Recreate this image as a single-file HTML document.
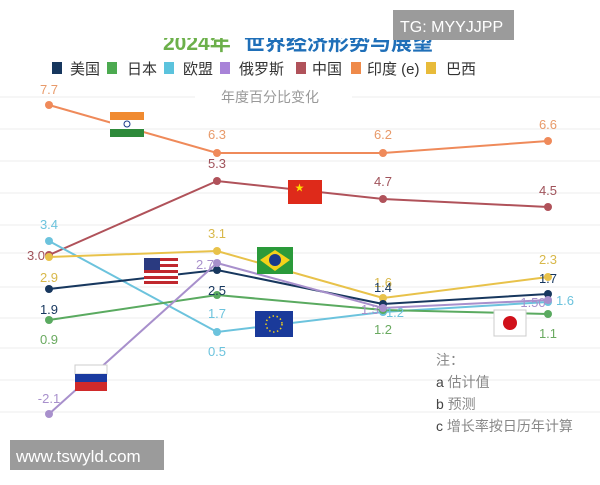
<!DOCTYPE html><html><head><meta charset="utf-8"><style>
body{margin:0;width:600px;height:480px;background:#fff;overflow:hidden;font-family:"Liberation Sans","Noto Sans CJK SC",sans-serif}
</style></head><body>
<svg width="600" height="480" xmlns="http://www.w3.org/2000/svg" font-family="Liberation Sans, Noto Sans CJK SC, sans-serif">
<g stroke="#eeeeee" stroke-width="1">
<line x1="0" y1="97" x2="195" y2="97"/><line x1="352" y1="97" x2="600" y2="97"/>
<line x1="0" y1="129" x2="600" y2="129"/><line x1="0" y1="161" x2="600" y2="161"/>
<line x1="0" y1="193" x2="600" y2="193"/><line x1="0" y1="225" x2="600" y2="225"/>
<line x1="0" y1="253" x2="600" y2="253"/><line x1="0" y1="287" x2="600" y2="287"/>
<line x1="0" y1="318" x2="600" y2="318"/><line x1="0" y1="348" x2="600" y2="348"/>
<line x1="0" y1="380" x2="600" y2="380"/><line x1="0" y1="412" x2="600" y2="412"/>
</g>
<text x="163" y="50" font-size="21" font-weight="bold" fill="#6cb04a">2024年</text>
<text x="244" y="50" font-size="21" font-weight="bold" fill="#1f6fb8">世界经济形势与展望</text>
<rect x="0" y="0" width="600" height="38" fill="#fff"/>
<rect x="393" y="10" width="121" height="30" fill="#9b9b9b"/>
<text x="400" y="32" font-size="16" fill="#fff">TG: MYYJJPP</text>
<g font-size="15" fill="#333">
<rect x="52" y="62" width="10" height="12" fill="#17375e"/><text x="70" y="74">美国</text>
<rect x="107" y="62" width="10" height="12" fill="#4caa50"/><text x="127" y="74">日本</text>
<rect x="164" y="62" width="10" height="12" fill="#5bc3dd"/><text x="183" y="74">欧盟</text>
<rect x="220" y="62" width="10" height="12" fill="#a883d8"/><text x="239" y="74">俄罗斯</text>
<rect x="296" y="62" width="10" height="12" fill="#b0525a"/><text x="312" y="74">中国</text>
<rect x="351" y="62" width="10" height="12" fill="#ef8a4a"/><text x="367" y="74">印度 (e)</text>
<rect x="426" y="62" width="10" height="12" fill="#e8bb3a"/><text x="446" y="74">巴西</text>
</g>
<text x="221" y="102" font-size="14" fill="#999">年度百分比变化</text>
<g fill="none" stroke-width="2">
<polyline stroke="#ef8a5a" points="49,105 217,153 383,153 548,141"/>
<polyline stroke="#b0525a" points="49,255 217,181 383,199 548,207"/>
<polyline stroke="#6cc3dd" points="49,241 217,332 383,312 548,302"/>
<polyline stroke="#e8c24a" points="49,257 217,251 383,298 548,277"/>
<polyline stroke="#17375e" points="49,289 217,270 383,304 548,294"/>
<polyline stroke="#5aaa60" points="49,320 217,295 383,310 548,314"/>
<polyline stroke="#a890cc" points="49,414 217,263 383,308 548,300"/>
</g>
<g>
<g fill="#ef8a5a"><circle cx="49" cy="105" r="4"/><circle cx="217" cy="153" r="4"/><circle cx="383" cy="153" r="4"/><circle cx="548" cy="141" r="4"/></g>
<g fill="#b0525a"><circle cx="49" cy="255" r="4"/><circle cx="217" cy="181" r="4"/><circle cx="383" cy="199" r="4"/><circle cx="548" cy="207" r="4"/></g>
<g fill="#6cc3dd"><circle cx="49" cy="241" r="4"/><circle cx="217" cy="332" r="4"/><circle cx="383" cy="312" r="4"/><circle cx="548" cy="302" r="4"/></g>
<g fill="#e8c24a"><circle cx="49" cy="257" r="4"/><circle cx="217" cy="251" r="4"/><circle cx="383" cy="298" r="4"/><circle cx="548" cy="277" r="4"/></g>
<g fill="#17375e"><circle cx="49" cy="289" r="4"/><circle cx="217" cy="270" r="4"/><circle cx="383" cy="304" r="4"/><circle cx="548" cy="294" r="4"/></g>
<g fill="#5aaa60"><circle cx="49" cy="320" r="4"/><circle cx="217" cy="295" r="4"/><circle cx="383" cy="310" r="4"/><circle cx="548" cy="314" r="4"/></g>
<g fill="#a890cc"><circle cx="49" cy="414" r="4"/><circle cx="217" cy="263" r="4"/><circle cx="383" cy="308" r="4"/><circle cx="548" cy="300" r="4"/></g>
</g>
<g font-size="13" text-anchor="middle">
<text x="49" y="94" fill="#e89a6a">7.7</text><text x="217" y="139" fill="#e89a6a">6.3</text><text x="383" y="139" fill="#e89a6a">6.2</text><text x="548" y="129" fill="#e89a6a">6.6</text>
<text x="217" y="168" fill="#a0525a">5.3</text><text x="383" y="186" fill="#a0525a">4.7</text><text x="548" y="195" fill="#a0525a">4.5</text>
<text x="49" y="229" fill="#6cc3dd">3.4</text><text x="217" y="318" fill="#6cc3dd">1.7</text><text x="217" y="356" fill="#6cc3dd">0.5</text><text x="395" y="317" fill="#6cc3dd">1.2</text><text x="565" y="305" fill="#6cc3dd">1.6</text>
<text x="36" y="260" fill="#a0525a">3.0</text>
<text x="49" y="282" fill="#d8b84a">2.9</text><text x="217" y="238" fill="#d8b84a">3.1</text><text x="383" y="287" fill="#d8b84a">1.6</text><text x="548" y="264" fill="#d8b84a">2.3</text>
<text x="49" y="314" fill="#17375e">1.9</text><text x="217" y="295" fill="#17375e">2.5</text><text x="383" y="292" fill="#17375e">1.4</text><text x="548" y="283" fill="#17375e">1.7</text>
<text x="49" y="344" fill="#6aaa60">0.9</text><text x="383" y="334" fill="#6aaa60">1.2</text><text x="548" y="338" fill="#6aaa60">1.1</text>
<text x="49" y="403" fill="#a890cc">-2.1</text><text x="205" y="269" fill="#a890cc">2.7</text><text x="370" y="314" fill="#a890cc">1.3</text><text x="533" y="307" fill="#a890cc">1.50</text>
</g>
<g><rect x="110" y="112" width="34" height="8" fill="#f08a30"/><rect x="110" y="120" width="34" height="9" fill="#fff"/><rect x="110" y="129" width="34" height="8" fill="#2e8a3a"/><circle cx="127" cy="124" r="3" fill="none" stroke="#1a3a8a"/></g>
<g><rect x="288" y="180" width="34" height="24" fill="#de2a1a"/><text x="295" y="191" font-size="9" fill="#ffde00">★</text></g>
<g><rect x="144" y="258" width="34" height="26" fill="#fff"/><g fill="#c0282e"><rect x="144" y="258" width="34" height="3"/><rect x="144" y="264" width="34" height="3"/><rect x="144" y="270" width="34" height="3"/><rect x="144" y="276" width="34" height="3"/><rect x="144" y="281" width="34" height="3"/></g><rect x="144" y="258" width="16" height="12" fill="#2a3a80"/></g>
<g><rect x="257" y="247" width="36" height="27" fill="#2a9a3a"/><polygon points="275,250 290,260 275,271 260,260" fill="#f4d21a"/><circle cx="275" cy="260" r="6" fill="#1a3a8a"/></g>
<g><rect x="255" y="311" width="38" height="26" fill="#1a3a9a"/><circle cx="274" cy="324" r="8" fill="none" stroke="#f4d21a" stroke-width="1.5" stroke-dasharray="1.5 2.5"/></g>
<g><rect x="494" y="310" width="32" height="26" fill="#fff" stroke="#ccc"/><circle cx="510" cy="323" r="7" fill="#d0101a"/></g>
<g><rect x="75" y="365" width="32" height="9" fill="#fff" stroke="#ccc"/><rect x="75" y="374" width="32" height="8" fill="#1a3aa0"/><rect x="75" y="382" width="32" height="9" fill="#d02a2a"/></g>
<g font-size="14" fill="#888"><text x="436" y="365">注：</text>
<text x="436" y="387"><tspan fill="#444">a</tspan> 估计值</text>
<text x="436" y="409"><tspan fill="#444">b</tspan> 预测</text>
<text x="436" y="431"><tspan fill="#444">c</tspan> 增长率按日历年计算</text></g>
<rect x="10" y="440" width="154" height="30" fill="#9b9b9b"/>
<text x="16" y="462" font-size="17" fill="#fff">www.tswyld.com</text>
</svg>
</body></html>
